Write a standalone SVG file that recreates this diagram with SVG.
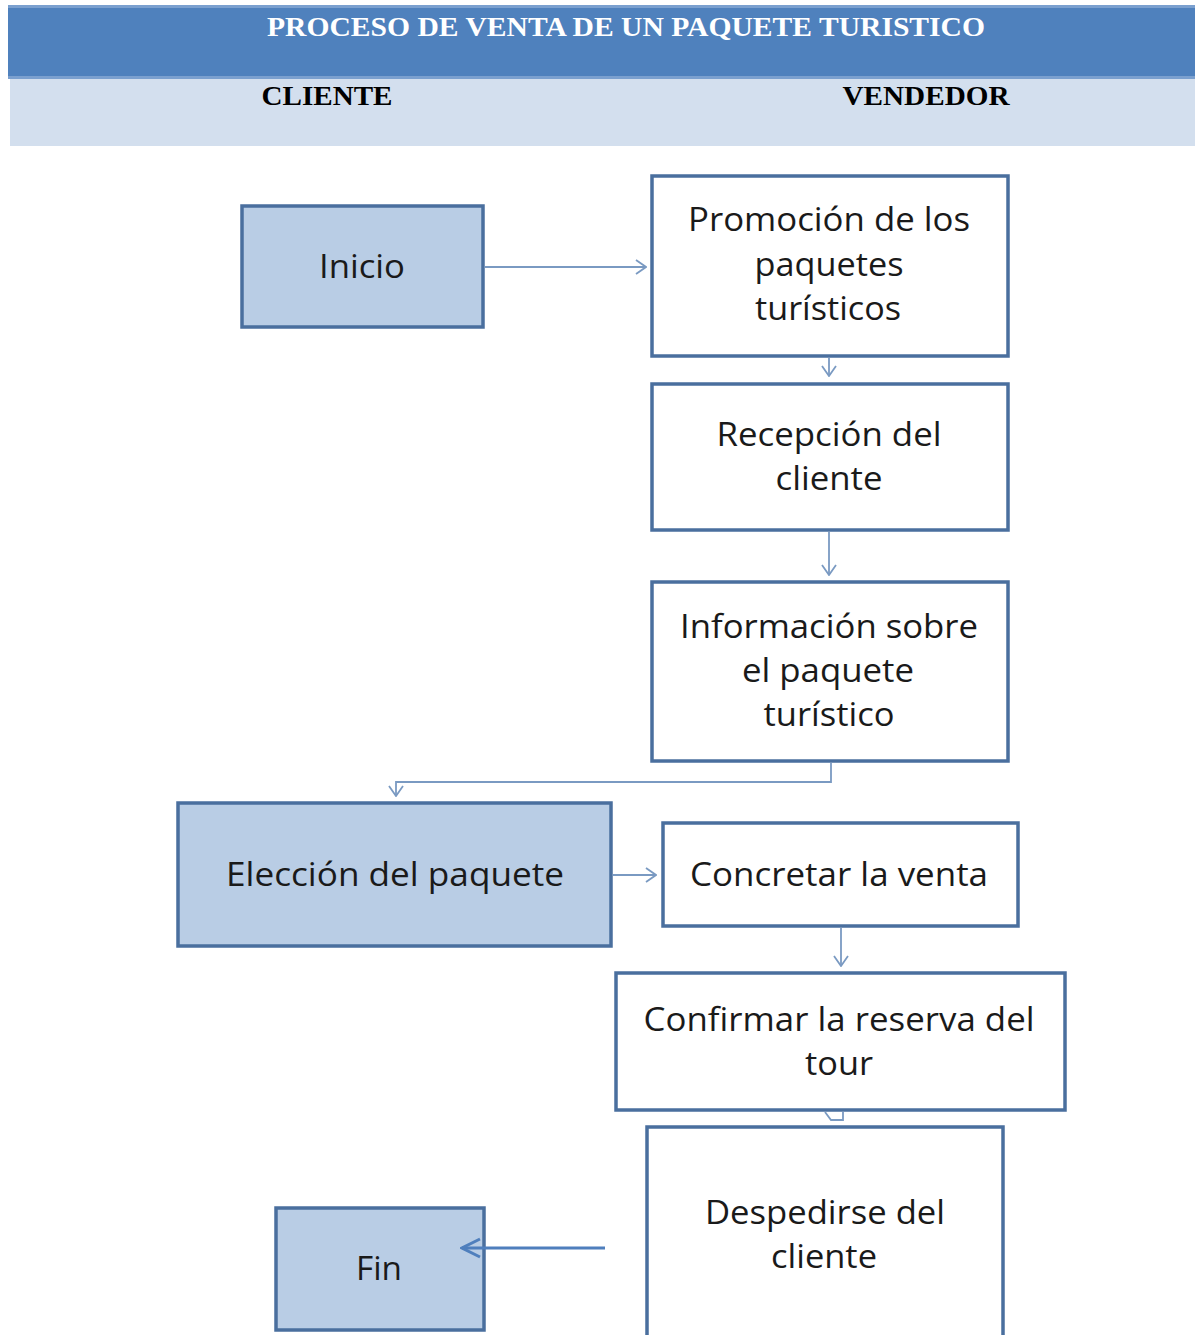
<svg xmlns="http://www.w3.org/2000/svg" width="1195" height="1335" viewBox="0 0 1195 1335">
<defs>
<style>
.hdr{font-family:"Liberation Serif","Times New Roman",serif;font-weight:bold;font-size:28px}
.box{stroke:#4a6f9e;stroke-width:3.5}
.cli{fill:#b9cde5}
.ven{fill:#ffffff}
.t{font-family:"Open Sans","Noto Sans",sans-serif;font-size:32px;fill:#1a1a1a;text-anchor:middle}
.c{fill:none;stroke:#7a9ac2;stroke-width:1.8}
.cb{fill:none;stroke:#4f7fbd;stroke-width:3}
</style>
<marker id="a" viewBox="0 0 12 16" refX="11" refY="8" markerWidth="12" markerHeight="16" markerUnits="userSpaceOnUse" orient="auto">
<path d="M1,1 L11,8 L1,15" fill="none" stroke="#7a9ac2" stroke-width="1.8"/>
</marker>
<marker id="ab" viewBox="0 0 22 22" refX="20" refY="11" markerWidth="22" markerHeight="22" markerUnits="userSpaceOnUse" orient="auto">
<path d="M2,2 L20,11 L2,20" fill="none" stroke="#4f7fbd" stroke-width="3"/>
</marker>
</defs>
<rect width="1195" height="1335" fill="#ffffff"/>
<g id="header">
<rect x="8" y="5" width="1187" height="74" fill="#4f81bd"/>
<rect x="8" y="5" width="1187" height="3" fill="#7ba0cf"/>
<rect x="8" y="76" width="1187" height="3" fill="#7ba0cf"/>
<rect x="10" y="79" width="1185" height="67" fill="#d3dfee"/>
<text class="hdr" x="626" y="36" fill="#ffffff" text-anchor="middle" textLength="718" lengthAdjust="spacingAndGlyphs">PROCESO DE VENTA DE UN PAQUETE TURISTICO</text>
<text class="hdr" x="327" y="105" fill="#000000" text-anchor="middle" textLength="131" lengthAdjust="spacingAndGlyphs">CLIENTE</text>
<text class="hdr" x="926" y="105" fill="#000000" text-anchor="middle" textLength="167" lengthAdjust="spacingAndGlyphs">VENDEDOR</text>
</g>
<g id="n-inicio">
<rect class="box cli" x="242" y="206" width="241" height="121"/>
<text class="t" x="362" y="278" textLength="86" lengthAdjust="spacingAndGlyphs">Inicio</text>
</g>
<g id="n-promocion">
<rect class="box ven" x="652" y="176" width="356" height="180"/>
<text class="t" x="829" y="231" textLength="282" lengthAdjust="spacingAndGlyphs">Promoción de los</text>
<text class="t" x="829" y="276" textLength="149" lengthAdjust="spacingAndGlyphs">paquetes</text>
<text class="t" x="828" y="320" textLength="146" lengthAdjust="spacingAndGlyphs">turísticos</text>
</g>
<g id="n-recepcion">
<rect class="box ven" x="652" y="384" width="356" height="146"/>
<text class="t" x="829" y="446" textLength="225" lengthAdjust="spacingAndGlyphs">Recepción del</text>
<text class="t" x="829" y="490" textLength="107" lengthAdjust="spacingAndGlyphs">cliente</text>
</g>
<g id="n-informacion">
<rect class="box ven" x="652" y="582" width="356" height="179"/>
<text class="t" x="829" y="638" textLength="298" lengthAdjust="spacingAndGlyphs">Información sobre</text>
<text class="t" x="828" y="682" textLength="172" lengthAdjust="spacingAndGlyphs">el paquete</text>
<text class="t" x="829" y="726" textLength="131" lengthAdjust="spacingAndGlyphs">turístico</text>
</g>
<g id="n-eleccion">
<rect class="box cli" x="178" y="803" width="433" height="143"/>
<text class="t" x="395" y="886" textLength="338" lengthAdjust="spacingAndGlyphs">Elección del paquete</text>
</g>
<g id="n-concretar">
<rect class="box ven" x="663" y="823" width="355" height="103"/>
<text class="t" x="839" y="886" textLength="298" lengthAdjust="spacingAndGlyphs">Concretar la venta</text>
</g>
<g id="n-confirmar">
<rect class="box ven" x="616" y="973" width="449" height="137"/>
<text class="t" x="839" y="1031" textLength="391" lengthAdjust="spacingAndGlyphs">Confirmar la reserva del</text>
<text class="t" x="839" y="1075" textLength="68" lengthAdjust="spacingAndGlyphs">tour</text>
</g>
<g id="n-despedirse">
<rect class="box ven" x="647" y="1127" width="356" height="220"/>
<text class="t" x="825" y="1224" textLength="240" lengthAdjust="spacingAndGlyphs">Despedirse del</text>
<text class="t" x="824" y="1268" textLength="106" lengthAdjust="spacingAndGlyphs">cliente</text>
</g>
<g id="n-fin">
<rect class="box cli" x="276" y="1208" width="208" height="122"/>
<text class="t" x="379" y="1280" textLength="46" lengthAdjust="spacingAndGlyphs">Fin</text>
</g>
<g id="connectors">
<path class="c" d="M485,267 L646,267" marker-end="url(#a)"/>
<path class="c" d="M829,358 L829,376" marker-end="url(#a)"/>
<path class="c" d="M829,532 L829,575" marker-end="url(#a)"/>
<path class="c" d="M831,763 L831,782 L396,782 L396,796" marker-end="url(#a)"/>
<path class="c" d="M613,875 L656,875" marker-end="url(#a)"/>
<path class="c" d="M841,928 L841,966" marker-end="url(#a)"/>
<path class="c" d="M825,1112 L831,1120 L843,1120 L843,1112"/>
<path class="cb" d="M605,1248 L462,1248" marker-end="url(#ab)"/>
</g>
</svg>
